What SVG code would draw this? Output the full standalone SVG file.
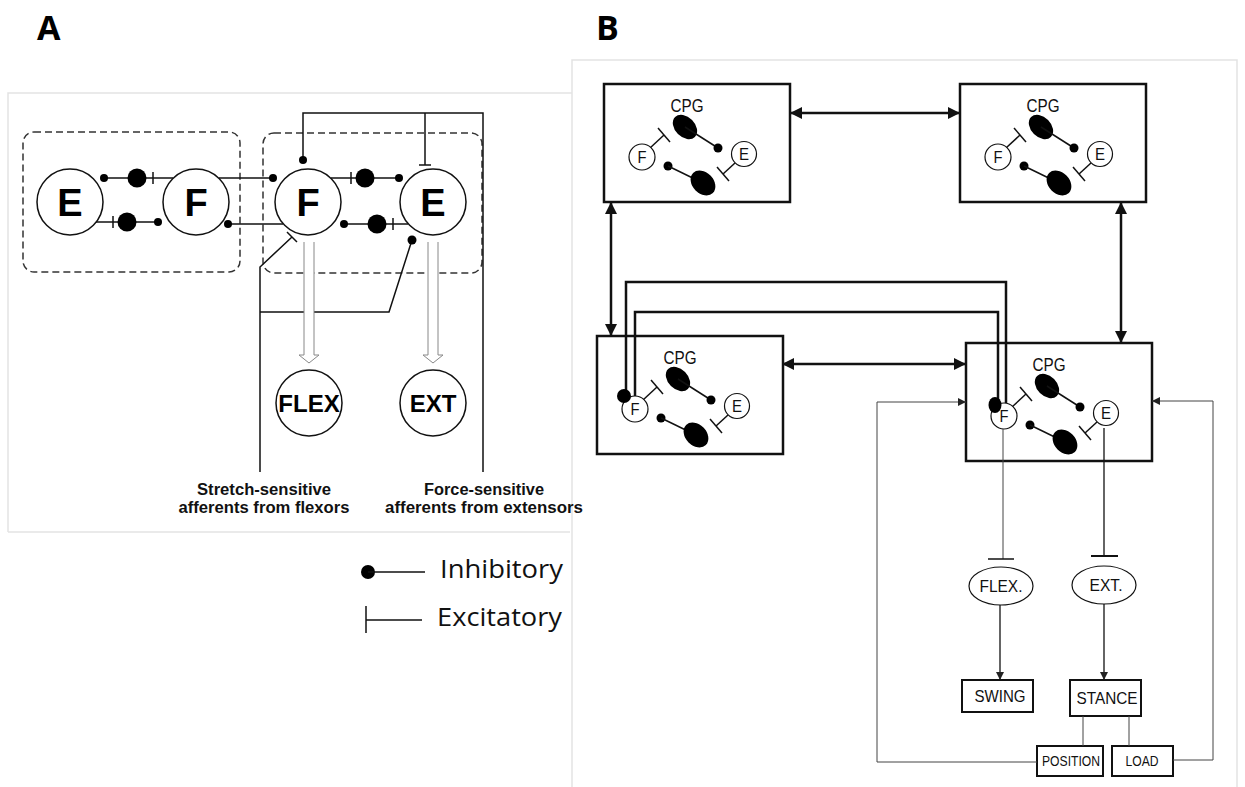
<svg xmlns="http://www.w3.org/2000/svg" xmlns:xlink="http://www.w3.org/1999/xlink" width="1245" height="787" viewBox="0 0 1245 787">
<style>
.frame{fill:none;stroke:#e3e3e3;stroke-width:1.5}
.lbl{font-family:"Open Sans","Liberation Sans",sans-serif;font-weight:bold;font-size:34px;fill:#000}
.ln{fill:none;stroke:#111;stroke-width:1.5}
.thin{fill:none;stroke:#444;stroke-width:1}
.dash{fill:none;stroke:#333;stroke-width:1.5;stroke-dasharray:7 4}
.cell{fill:#fff;stroke:#111;stroke-width:1.5}
.dot{fill:#000}
.big{font-family:"Liberation Sans",Arial,sans-serif;font-weight:bold;font-size:38px;fill:#000;text-anchor:middle}
.mid{font-family:"Liberation Sans",Arial,sans-serif;font-weight:bold;font-size:24px;fill:#000;text-anchor:middle}
.cap{font-family:"Liberation Sans",Arial,sans-serif;font-weight:bold;font-size:16px;fill:#111;text-anchor:middle}
.leg{font-family:"Open Sans","Liberation Sans",sans-serif;font-size:25px;fill:#111}
.hol{fill:#fff;stroke:#888;stroke-width:1}
.box{fill:#fff;stroke:#111;stroke-width:2.5}
.thick{fill:none;stroke:#111;stroke-width:2.5}
.nar{font-family:"Liberation Sans",Arial,sans-serif;fill:#111;text-anchor:middle}
.sm{fill:#fff;stroke:#111;stroke-width:1.2}
.bx{fill:#fff;stroke:#111;stroke-width:2}
</style>
<defs>
<marker id="ah" markerUnits="userSpaceOnUse" markerWidth="14" markerHeight="14" refX="12" refY="6" orient="auto-start-reverse" viewBox="0 0 14 12">
<path d="M0,0 L12,6 L0,12 Z" fill="#111"/>
</marker>
<marker id="sa" markerUnits="userSpaceOnUse" markerWidth="9" markerHeight="8" refX="8" refY="4" orient="auto" viewBox="0 0 9 8">
<path d="M0,0 L8,4 L0,8 Z" fill="#222"/>
</marker>
<g id="cpg">
<rect class="box" x="0" y="0" width="186" height="118"/>
<text class="nar" x="83" y="28" font-size="18" textLength="33" lengthAdjust="spacingAndGlyphs">CPG</text>
<ellipse class="dot" cx="81" cy="43" rx="14" ry="10" transform="rotate(45 81 43)"/>
<line class="ln" x1="81" y1="43" x2="114" y2="64"/>
<circle class="dot" cx="114" cy="64" r="4.5"/>
<circle class="dot" cx="64" cy="82" r="4.5"/>
<line class="ln" x1="64" y1="82" x2="99" y2="99"/>
<ellipse class="dot" cx="99" cy="99" rx="14" ry="10.5" transform="rotate(45 99 99)"/>
<line class="ln" x1="46" y1="64" x2="60" y2="51"/>
<line class="ln" x1="54" y1="44" x2="66" y2="58"/>
<line class="ln" x1="131" y1="79" x2="119" y2="90"/>
<line class="ln" x1="113" y1="83" x2="125" y2="97"/>
<circle class="sm" cx="38" cy="73" r="13"/>
<text class="nar" x="38" y="79" font-size="16" textLength="9" lengthAdjust="spacingAndGlyphs">F</text>
<circle class="sm" cx="140" cy="70" r="12.5"/>
<text class="nar" x="140" y="76" font-size="16" textLength="10" lengthAdjust="spacingAndGlyphs">E</text>
</g>
</defs>

<!-- panel frames -->
<g id="frames">
<path class="frame" d="M8,532 V93 H572"/>
<line class="frame" x1="8" y1="532" x2="570" y2="532"/>
<path class="frame" d="M572,787 V60 H1237 V787"/>
</g>
<text class="lbl" x="37" y="40">A</text>
<text class="lbl" x="596" y="40">B</text>

<!-- Panel A -->
<g id="A-left-half">
<rect class="dash" x="23" y="132" width="217" height="140" rx="11"/>
<circle id="A-E1" class="cell" cx="70" cy="202" r="33"/>
<text class="big" x="70" y="216">E</text>
<circle id="A-F1" class="cell" cx="196" cy="202" r="33"/>
<text class="big" x="196" y="216">F</text>
</g>
<g id="A-right-half">
<rect class="dash" x="263" y="133" width="219" height="140" rx="11"/>
<circle id="A-F2" class="cell" cx="308" cy="202" r="33"/>
<text class="big" x="308" y="216">F</text>
<circle id="A-E2" class="cell" cx="433" cy="202" r="33"/>
<text class="big" x="433" y="216">E</text>
</g>
<g id="A-flex">
<circle class="cell" cx="309" cy="403" r="33"/>
<text class="mid" x="309" y="412">FLEX</text>
</g>
<g id="A-ext">
<circle class="cell" cx="433" cy="403" r="33"/>
<text class="mid" x="433" y="412">EXT</text>
</g>

<g id="A-connectors">
<line class="ln" x1="104" y1="178" x2="173" y2="178"/>
<circle class="dot" cx="104" cy="178" r="4"/>
<circle class="dot" cx="137" cy="178" r="9.5"/>
<line class="ln" x1="153" y1="172" x2="153" y2="184"/>
<line class="ln" x1="96" y1="222" x2="158" y2="222"/>
<line class="ln" x1="113" y1="216" x2="113" y2="228"/>
<circle class="dot" cx="127" cy="222" r="9.5"/>
<circle class="dot" cx="158" cy="222" r="4"/>
<line class="ln" x1="219" y1="178" x2="273" y2="178"/>
<circle class="dot" cx="273" cy="178" r="4"/>
<line class="ln" x1="228" y1="224" x2="283" y2="224"/>
<circle class="dot" cx="228" cy="224" r="4"/>
<line class="ln" x1="331" y1="178" x2="399" y2="178"/>
<line class="ln" x1="351" y1="172" x2="351" y2="184"/>
<circle class="dot" cx="365" cy="178" r="9.5"/>
<circle class="dot" cx="399" cy="178" r="4"/>
<line class="ln" x1="344" y1="224" x2="408" y2="224"/>
<circle class="dot" cx="344" cy="224" r="4"/>
<circle class="dot" cx="377" cy="224" r="9.5"/>
<line class="ln" x1="393" y1="218" x2="393" y2="230"/>
<path class="ln" d="M303,160 V113 H483 V472"/>
<circle class="dot" cx="303" cy="160" r="4"/>
<line class="ln" x1="425" y1="113" x2="425" y2="165"/>
<line class="ln" x1="419" y1="165" x2="431" y2="165"/>
<path class="ln" d="M292,237 L260,267 V472"/>
<line class="ln" x1="287" y1="232" x2="297" y2="242"/>
<path class="ln" d="M260,312 H389 L412,240"/>
<circle class="dot" cx="412" cy="240" r="4.5"/>
<path class="hol" d="M304,242 V355 H299 L309,363 L319,355 H314 V242"/>
<path class="hol" d="M428,242 V355 H423 L433,363 L443,355 H438 V242"/>
</g>
<text class="cap" x="264" y="495" textLength="134" lengthAdjust="spacingAndGlyphs">Stretch-sensitive</text>
<text class="cap" x="264" y="513" textLength="171" lengthAdjust="spacingAndGlyphs">afferents from flexors</text>
<text class="cap" x="484" y="495" textLength="120" lengthAdjust="spacingAndGlyphs">Force-sensitive</text>
<text class="cap" x="484" y="513" textLength="198" lengthAdjust="spacingAndGlyphs">afferents from extensors</text>

<g id="legend">
<circle class="dot" cx="368" cy="572" r="7"/>
<line class="ln" x1="368" y1="572" x2="425" y2="572"/>
<text class="leg" x="440" y="578" textLength="123" lengthAdjust="spacingAndGlyphs">Inhibitory</text>
<line class="ln" x1="366" y1="606" x2="366" y2="633"/>
<line class="ln" x1="366" y1="620" x2="422" y2="620"/>
<text class="leg" x="437" y="626" textLength="125" lengthAdjust="spacingAndGlyphs">Excitatory</text>
</g>

<!-- Panel B -->
<g id="cpg-top-left"><use xlink:href="#cpg" x="604" y="84"/></g>
<g id="cpg-top-right"><use xlink:href="#cpg" x="960" y="84"/></g>
<g id="cpg-bottom-left"><use xlink:href="#cpg" x="597" y="336"/></g>
<g id="cpg-bottom-right"><use xlink:href="#cpg" x="966" y="343"/></g>

<g id="B-flex"><ellipse class="sm" cx="1001" cy="586" rx="32" ry="19"/><text class="nar" x="1001" y="592" font-size="16" textLength="43" lengthAdjust="spacingAndGlyphs">FLEX.</text></g>
<g id="B-ext"><ellipse class="sm" cx="1104" cy="585" rx="32" ry="19"/><text class="nar" x="1106" y="591" font-size="16" textLength="33" lengthAdjust="spacingAndGlyphs">EXT.</text></g>
<g id="B-swing"><rect class="bx" x="962" y="680" width="71" height="32"/><text class="nar" x="1000" y="702" font-size="17" textLength="51" lengthAdjust="spacingAndGlyphs">SWING</text></g>
<g id="B-stance"><rect class="bx" x="1070" y="680" width="71" height="36"/><text class="nar" x="1107" y="704" font-size="17" textLength="61" lengthAdjust="spacingAndGlyphs">STANCE</text></g>
<g id="B-position"><rect class="bx" x="1037" y="746" width="66" height="30"/><text class="nar" x="1071" y="766" font-size="14" textLength="58" lengthAdjust="spacingAndGlyphs">POSITION</text></g>
<g id="B-load"><rect class="bx" x="1112" y="746" width="61" height="30"/><text class="nar" x="1142" y="766" font-size="14" textLength="33" lengthAdjust="spacingAndGlyphs">LOAD</text></g>

<g id="B-connectors">
<line class="thick" x1="790" y1="113" x2="960" y2="113" marker-start="url(#ah)" marker-end="url(#ah)"/>
<line class="thick" x1="611" y1="202" x2="611" y2="336" marker-start="url(#ah)" marker-end="url(#ah)"/>
<line class="thick" x1="782" y1="364" x2="966" y2="364" marker-start="url(#ah)" marker-end="url(#ah)"/>
<line class="thick" x1="1121" y1="202" x2="1121" y2="343" marker-start="url(#ah)" marker-end="url(#ah)"/>
<path class="thick" d="M626,392 V282 H1006 V403"/>
<circle class="dot" cx="624" cy="396" r="7"/>
<path class="thick" d="M635,396 V312 H998 V400"/>
<ellipse class="dot" cx="995" cy="405" rx="6.5" ry="8"/>
<line class="thin" x1="1003" y1="429" x2="1003" y2="559" stroke="#666"/>
<line class="ln" x1="988" y1="559" x2="1014" y2="559"/>
<line class="ln" x1="1104" y1="428" x2="1104" y2="556" style="stroke-width:1.3"/>
<line class="ln" x1="1091" y1="556" x2="1118" y2="556" style="stroke-width:2"/>
<line class="ln" x1="1000" y1="605" x2="1000" y2="680" style="stroke-width:1.3" marker-end="url(#sa)"/>
<line class="ln" x1="1104" y1="604" x2="1104" y2="680" style="stroke-width:1.3" marker-end="url(#sa)"/>
<line class="thin" x1="1083" y1="716" x2="1083" y2="746"/>
<line class="thin" x1="1129" y1="716" x2="1129" y2="746" stroke="#777"/>
<polyline class="thin" points="1037,762 877,762 877,402 966,402" marker-end="url(#sa)"/>
<polyline class="thin" points="1173,760 1213,760 1213,401 1152,401" marker-end="url(#sa)"/>
</g>
</svg>
